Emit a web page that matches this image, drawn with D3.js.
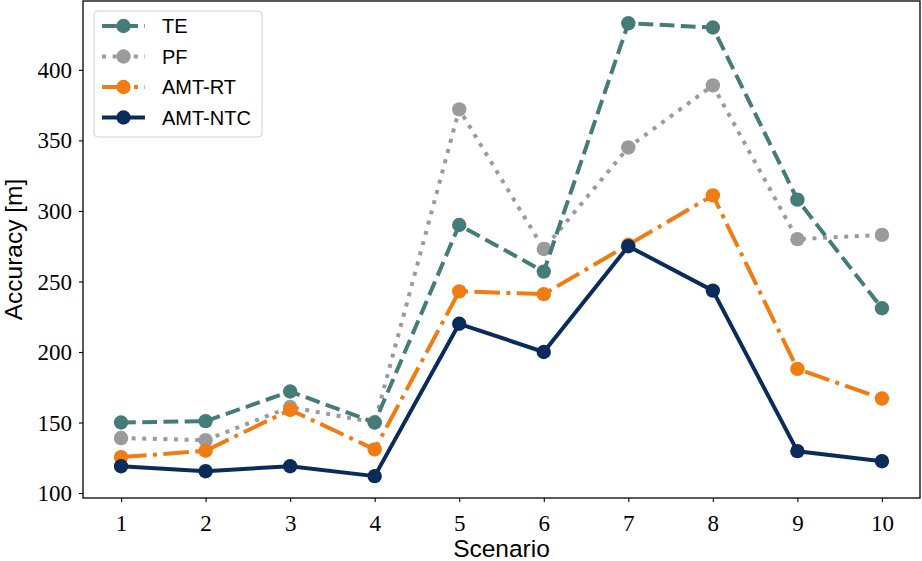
<!DOCTYPE html>
<html><head><meta charset="utf-8">
<script src="https://cdn.jsdelivr.net/npm/d3@7"></script>
<style>body{margin:0;background:#fff}svg{display:block}</style>
</head><body>
<svg id="c" width="922" height="561"></svg>
<script>
const scenarios = [1,2,3,4,5,6,7,8,9,10];
const seriesNames = ["TE","PF","AMT-RT","AMT-NTC"];
const teValues     = [150,151,172,150,290,257,433,430,308,231];
const pfValues     = [139,137.5,161,150,372,273,345,389,280,283];
const amtRtValues  = [125.5,130,159,131,243,241,276,311,188,167];
const amtNtcValues = [119,115.5,119,112,220,200,275,243.5,129.7,122.6];
const yTicks = [100,150,200,250,300,350,400];
const xLabel = "Scenario";
const yLabel = "Accuracy [m]";

const colors = ["#467c78","#9b9b9d","#f07c12","#0a2c5a"];
const lw = 4;
const dashes = [
  [3.7*lw,1.6*lw].join(","),
  [1*lw,1.65*lw].join(","),
  [6.4*lw,1.6*lw,1*lw,1.6*lw].join(","),
  null
];
const data = [teValues,pfValues,amtRtValues,amtNtcValues];
const drawOrder = [1,0,2,3];

const svg = d3.select("#c");
const L=83, R=920, T=1, B=498;
const x = d3.scaleLinear().domain([0.55,10.45]).range([L,R]);
const y = d3.scaleLinear().domain([96.5,448.8]).range([B,T]);

const line = d3.line().x((d,i)=>x(scenarios[i])).y(d=>y(d));
drawOrder.forEach(k=>{
  const vals = data[k];
  const g = svg.append("g");
  const p = g.append("path").attr("d",line(vals)).attr("fill","none")
    .attr("stroke",colors[k]).attr("stroke-width",lw).attr("stroke-linejoin","round");
  if(dashes[k]) p.attr("stroke-dasharray",dashes[k]).attr("stroke-linecap","butt");
  else p.attr("stroke-linecap","round");
  g.selectAll("circle").data(vals).join("circle")
    .attr("cx",(d,i)=>x(scenarios[i])).attr("cy",d=>y(d)).attr("r",7.2)
    .attr("fill",colors[k]);
});

svg.append("rect").attr("x",L).attr("y",T).attr("width",R-L).attr("height",B-T)
  .attr("fill","none").attr("stroke","#000").attr("stroke-width",1.3);

const tickFont = "'Liberation Serif','Times New Roman',serif";
const xAxis = svg.append("g").attr("transform",`translate(0,${B})`)
  .call(d3.axisBottom(x).tickValues(scenarios).tickSize(4).tickPadding(6).tickFormat(d3.format("d")));
const yAxis = svg.append("g").attr("transform",`translate(${L},0)`)
  .call(d3.axisLeft(y).tickValues(yTicks).tickSize(4).tickPadding(7).tickFormat(d3.format("d")));
[xAxis,yAxis].forEach(a=>{
  a.select(".domain").remove();
  a.selectAll("line").attr("stroke","#000").attr("stroke-width",1.1);
  a.selectAll("text").attr("font-family",tickFont).attr("font-size",23).attr("fill","#000");
});
xAxis.selectAll("text").attr("y",33).attr("dy","0");
yAxis.selectAll("text").attr("dy","0.33em");

const sans = "'Liberation Sans',Arial,sans-serif";
svg.append("text").attr("x",(L+R)/2).attr("y",557).attr("text-anchor","middle")
  .attr("font-family",sans).attr("font-size",24.5).text(xLabel);
svg.append("text").attr("transform",`translate(22,${(T+B)/2}) rotate(-90)`).attr("text-anchor","middle")
  .attr("font-family",sans).attr("font-size",24.5).text(yLabel);

const lg = svg.append("g");
lg.append("rect").attr("x",94).attr("y",11).attr("width",168).attr("height",126).attr("rx",4)
  .attr("fill","#fff").attr("fill-opacity",0.8).attr("stroke","#d0d0d0").attr("stroke-width",1);
seriesNames.forEach((n,k)=>{
  const yy = 26 + k*30.5;
  const p = lg.append("line").attr("x1",102).attr("x2",145).attr("y1",yy).attr("y2",yy)
    .attr("stroke",colors[k]).attr("stroke-width",lw);
  if(dashes[k]) p.attr("stroke-dasharray",dashes[k]);
  lg.append("circle").attr("cx",123.5).attr("cy",yy).attr("r",7.2).attr("fill",colors[k]);
  lg.append("text").attr("x",162).attr("y",yy).attr("dy","0.36em")
    .attr("font-family",sans).attr("font-size",20).text(n);
});
</script>
</body></html>
